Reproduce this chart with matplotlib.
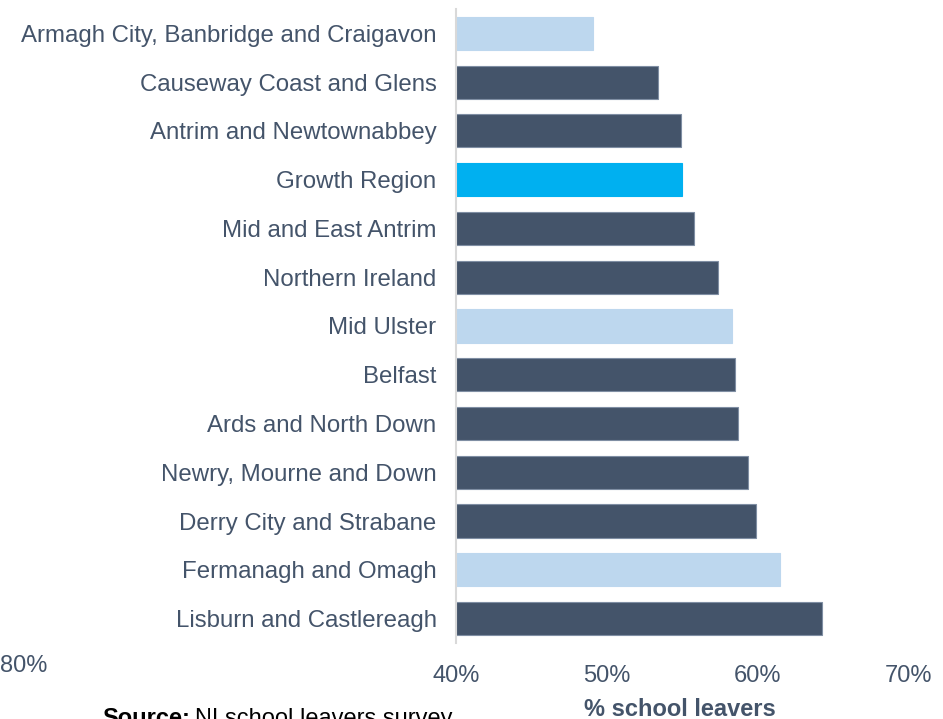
import matplotlib.pyplot as plt
import numpy as np

plt.rcParams['font.family'] = ['Liberation Sans', 'DejaVu Sans']

# Data, top to bottom
areas = [
    "Armagh City, Banbridge and Craigavon",
    "Causeway Coast and Glens",
    "Antrim and Newtownabbey",
    "Growth Region",
    "Mid and East Antrim",
    "Northern Ireland",
    "Mid Ulster",
    "Belfast",
    "Ards and North Down",
    "Newry, Mourne and Down",
    "Derry City and Strabane",
    "Fermanagh and Omagh",
    "Lisburn and Castlereagh",
]
pct = [49.1, 53.4, 54.9, 55.0, 55.8, 57.4, 58.3, 58.5, 58.7, 59.4, 59.9, 61.5, 64.3]
ticks = [40, 50, 60, 70]

light_areas = {"Armagh City, Banbridge and Craigavon", "Mid Ulster", "Fermanagh and Omagh"}

DARK = "#44546a"
LIGHT = "#bdd7ee"
BRIGHT = "#00b0f0"
FS = 17

colors = []
edges = []
for a in areas:
    if a == "Growth Region":
        colors.append(BRIGHT)
        edges.append(BRIGHT)
    elif a in light_areas:
        colors.append(LIGHT)
        edges.append(LIGHT)
    else:
        colors.append(DARK)
        edges.append("#7f8ea3")

fig = plt.figure(figsize=(9.43, 7.19), dpi=100)
ax = fig.add_axes([0.4836, 0.1057, 0.4793, 0.8818])

y = np.arange(len(areas))
ax.barh(y, np.array(pct) - 40, left=40, height=0.68, color=colors,
        edgecolor=edges, linewidth=0.8)

ax.set_xlim(40, 70)
ax.set_ylim(len(areas) - 0.5, -0.5)
ax.set_yticks(y)
ax.set_yticklabels(areas, fontsize=17.3, color=DARK)
ax.set_xticks(ticks)
ax.set_xticklabels([f"{t}%" for t in ticks], fontsize=FS, color=DARK)
ax.tick_params(axis='both', length=0)
ax.tick_params(axis='x', pad=16)
ax.tick_params(axis='y', pad=14)

for s in ["top", "right", "bottom"]:
    ax.spines[s].set_visible(False)
ax.spines["left"].set_color("#d9d9d9")
ax.spines["left"].set_linewidth(1.5)

# stray tick label at far left in the original
fig.text(24 / 943, 1 - 665.5 / 719, "80%", fontsize=FS, color=DARK, ha="center", va="center")

fig.text(680 / 943, 1 - 716 / 719, "% school leavers", fontsize=FS, color=DARK,
         fontweight="bold", ha="center", va="baseline")

# source line: bold lead-in, then regular text right after it
src = fig.text(102 / 943, 1 - 725 / 719, "Source:", fontsize=FS, color="black",
               fontweight="bold", ha="left", va="baseline")
ax.annotate("NI school leavers survey", xy=(1, 0), xycoords=src, xytext=(5, 0),
            textcoords="offset pixels", fontsize=FS, color="black",
            ha="left", va="bottom", annotation_clip=False)

fig.savefig("out.png", dpi=100)
